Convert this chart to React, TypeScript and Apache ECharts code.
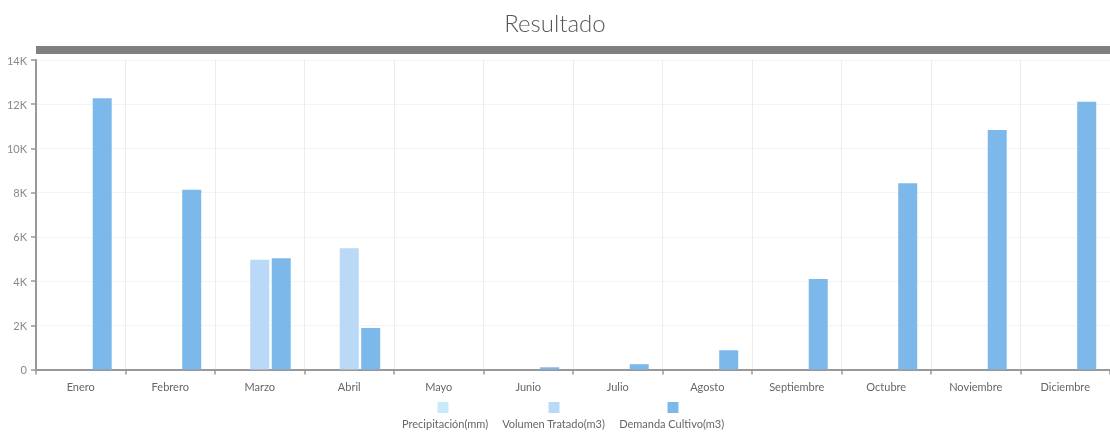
import React, { useEffect, useRef } from "react";
import * as echarts from "echarts";

const months = ["Enero", "Febrero", "Marzo", "Abril", "Mayo", "Junio", "Julio", "Agosto", "Septiembre", "Octubre", "Noviembre", "Diciembre"];
const precipitacion = [0, 0, 0, 0, 0, 0, 0, 0, 0, 0, 0, 0];
const volumenTratado = [0, 0, 4970, 5490, 0, 0, 0, 0, 0, 0, 0, 0];
const demandaCultivo = [12270, 8130, 5030, 1880, 0, 100, 240, 870, 4090, 8420, 10830, 12110];
const seriesNames = ["Precipitación(mm)", "Volumen Tratado(m3)", "Demanda Cultivo(m3)"];
const colors = ["#c8eafa", "#b9d9f6", "#7cb8ea"];

const FONT = "Lato, 'Open Sans', sans-serif";

export default function App() {
  const ref = useRef<HTMLDivElement>(null);
  useEffect(() => {
    if (!ref.current) return;
    const chart = echarts.init(ref.current, undefined, { renderer: "svg" });
    const data = [precipitacion, volumenTratado, demandaCultivo];
    const legendX = [443, 554, 673];
    chart.setOption({
      animation: false,
      title: {
        text: "Resultado",
        left: "center",
        top: 5,
        textStyle: { fontFamily: FONT, fontSize: 24, fontWeight: 300, color: "#555" },
      },
      legend: {
        data: seriesNames,
        bottom: 1,
        left: 397,
        icon: "none",
        itemWidth: 0,
        itemHeight: 0,
        itemGap: 14,
        selectedMode: false,
        textStyle: { fontFamily: FONT, fontSize: 11, color: "#666", padding: [0, 0, 0, -5] },
      },
      graphic: [
        { type: "rect", left: 36, top: 46, shape: { width: 1080, height: 8 }, style: { fill: "#808080" } },
        ...legendX.map((x, i) => ({
          type: "rect",
          left: x - 5.5,
          top: 402,
          shape: { width: 11, height: 11 },
          style: { fill: colors[i] },
        })),
      ],
      grid: { left: 36, top: 60, width: 1080, bottom: 65.5, containLabel: false },
      xAxis: {
        type: "category",
        data: months,
        axisLine: { lineStyle: { color: "#999", width: 2 } },
        axisTick: { show: true, length: 5, lineStyle: { color: "#999", width: 1.5 } },
        axisLabel: { fontFamily: FONT, fontSize: 11, color: "#666", margin: 11 },
        splitLine: { show: true, lineStyle: { color: "#ececec" } },
      },
      yAxis: {
        type: "value",
        min: 0,
        max: 14000,
        interval: 2000,
        axisLine: { show: true, lineStyle: { color: "#999", width: 2 } },
        axisTick: { show: true, length: 5, lineStyle: { color: "#999", width: 1.5 } },
        axisLabel: {
          fontFamily: FONT,
          fontSize: 11,
          color: "#888",
          margin: 9,
          formatter: (v: number) => (v === 0 ? "0" : v / 1000 + "K"),
        },
        splitLine: { show: true, lineStyle: { color: "#f4f4f4" } },
      },
      series: seriesNames.map((name, i) => ({
        name,
        type: "bar",
        data: data[i],
        barWidth: 19,
        barGap: "13%",
        itemStyle: { color: colors[i] },
      })),
    });
    return () => chart.dispose();
  }, []);
  return <div ref={ref} style={{ position: "fixed", left: 0, top: 0, width: 1110, height: 435 }} />;
}
